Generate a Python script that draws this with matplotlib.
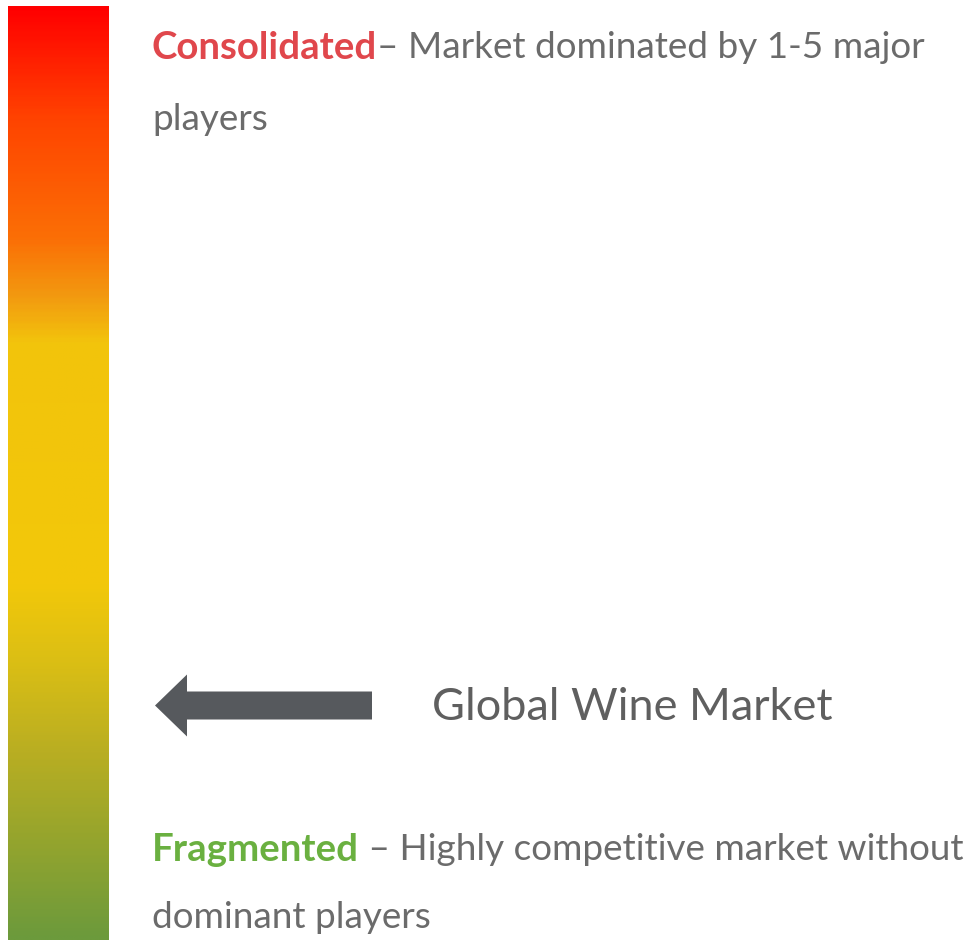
import matplotlib
matplotlib.use("Agg")
import matplotlib.pyplot as plt
import numpy as np
from matplotlib.colors import LinearSegmentedColormap

# gradient scale, top (consolidated) to bottom (fragmented)
stop_pos = [0.0, 0.12, 0.25, 0.31, 0.36, 0.62, 0.70, 0.80, 0.90, 1.0]
stop_colors = ["#ff0000", "#ff4400", "#fb7006", "#f29a10", "#f2c40c",
               "#f2c80a", "#dcbf14", "#b9ae22", "#93a42e", "#6c9a3c"]

market_name = "Global Wine Market"
market_level = 0.75  # fraction of scale from top

top_label = "Consolidated"
top_text = "– Market dominated by 1-5 major"
top_text2 = "players"
bottom_label = "Fragmented"
bottom_text = " – Highly competitive market without"
bottom_text2 = "dominant players"

W, H = 969, 943
fig = plt.figure(figsize=(W / 100, H / 100), dpi=100)
ax = fig.add_axes([0, 0, 1, 1])
ax.set_xlim(0, W)
ax.set_ylim(H, 0)
ax.axis("off")

bar_top, bar_bot = 6, 940
cmap = LinearSegmentedColormap.from_list("mkt", list(zip(stop_pos, stop_colors)))
grad = np.linspace(0, 1, 400).reshape(-1, 1)
ax.imshow(grad, cmap=cmap, aspect="auto", extent=[8, 109, bar_bot, bar_top])

font = "Lato"
gray = "#6b6b6b"
fs = 26.6

t1 = ax.text(152, 48, top_label, color="#e0474c", fontsize=fs + 1, fontweight="bold",
             family=font, va="center")
fig.canvas.draw()
r = fig.canvas.get_renderer()
bb = t1.get_window_extent(r)
ax.text(bb.x1, 48, top_text, color=gray, fontsize=fs, family=font, va="center")
ax.text(152, 120, top_text2, color=gray, fontsize=fs, family=font, va="center")

t2 = ax.text(152, 850, bottom_label, color="#6ab040", fontsize=fs + 1, fontweight="bold",
             family=font, va="center")
fig.canvas.draw()
bb = t2.get_window_extent(r)
ax.text(bb.x1, 850, bottom_text, color=gray, fontsize=fs, family=font, va="center")
ax.text(152, 918, bottom_text2, color=gray, fontsize=fs, family=font, va="center")

# arrow pointing at the scale
ay = bar_top + market_level * (bar_bot - bar_top) - 1
ax.arrow(372, ay, -185, 0, width=28, head_width=62, head_length=32,
         length_includes_head=False, color="#56595d", linewidth=0)
ax.text(432, ay + 2, market_name, color="#5f5f5f", fontsize=32.5, family=font,
        va="center")

fig.savefig("out.png", dpi=100)
